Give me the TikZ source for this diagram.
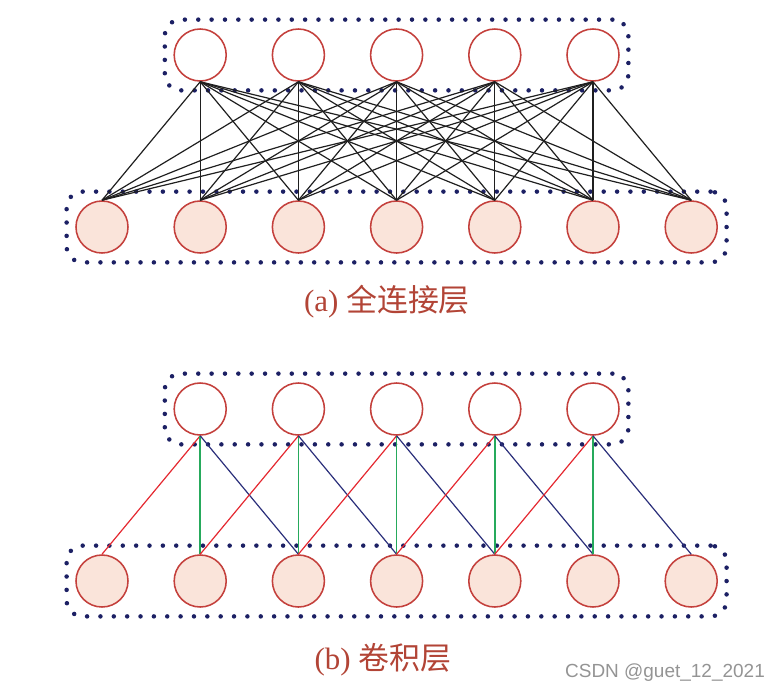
\documentclass[tikz,border=0pt]{standalone}
\usepackage{fontspec}
\usepackage{tikz}
\newfontfamily\cjk{Noto Sans CJK SC}
\newfontfamily\capfont{Liberation Serif}
\newfontfamily\wmfont{Liberation Sans}
\usetikzlibrary{fit, positioning}
\definecolor{nodered}{RGB}{196,64,60}
\definecolor{inpink}{RGB}{250,228,218}
\definecolor{dotnavy}{RGB}{28,32,100}
\definecolor{capred}{RGB}{178,68,54}
\definecolor{kred}{RGB}{228,40,48}
\definecolor{kgreen}{RGB}{38,170,92}
\definecolor{kblue}{RGB}{42,46,122}

\begin{document}
\begin{tikzpicture}[
    x=0.025cm, y=-0.025cm,
    neuron/.style={circle, draw=nodered, line width=1.1pt, minimum size=1.3cm, inner sep=0pt, fill=white},
    inneuron/.style={neuron, fill=inpink},
    dotbox/.style={draw=dotnavy, line width=3.2pt, line cap=round, dash pattern=on 0pt off 9.5pt,
        rounded corners=0.4cm, inner sep=0.215cm},
    full/.style={draw=black!88, line width=0.85pt},
    kleft/.style={draw=kred, line width=0.85pt},
    kmid/.style={draw=kgreen, line width=1pt},
    kright/.style={draw=kblue, line width=0.85pt},
    caption/.style={text=capred, font=\capfont\fontsize{22}{26}\selectfont},
    wmark/.style={text=black!42, font=\wmfont\fontsize{13.5}{16}\selectfont}
]
\useasboundingbox (0,0) rectangle (782,692);

% (a) fully connected
\foreach \i in {1,...,5} \node[neuron] (at\i) at ({102+98.2*\i},55) {};
\foreach \i in {1,...,7} \node[inneuron] (ab\i) at ({102+98.2*(\i-1)},227) {};
\node[dotbox, fit=(at1)(at5)] (boxat) {};
\node[dotbox, fit=(ab1)(ab7)] (boxab) {};
\foreach \i in {1,...,5}
    \foreach \j in {1,...,7}
        \draw[full] (at\i.south) -- (ab\j.north);
\node[caption] (capa) at (387,302) {(a) {\cjk 全连接层}};

% (b) convolution
\foreach \i in {1,...,5} \node[neuron] (bt\i) at ({102+98.2*\i},409) {};
\foreach \i in {1,...,7} \node[inneuron] (bb\i) at ({102+98.2*(\i-1)},581) {};
\node[dotbox, fit=(bt1)(bt5)] (boxbt) {};
\node[dotbox, fit=(bb1)(bb7)] (boxbb) {};
\foreach \i [evaluate=\i as \k using int(\i+1), evaluate=\i as \m using int(\i+2)] in {1,...,5} {
    \draw[kleft] (bt\i.south) -- (bb\i.north);
    \draw[kmid] (bt\i.south) -- (bb\k.north);
    \draw[kright] (bt\i.south) -- (bb\m.north);
}
\node[caption] (capb) at (383,660) {(b) {\cjk 卷积层}};

\node[wmark] (wm) at (665,673) {CSDN @guet\_12\_2021};
\end{tikzpicture}
\end{document}
